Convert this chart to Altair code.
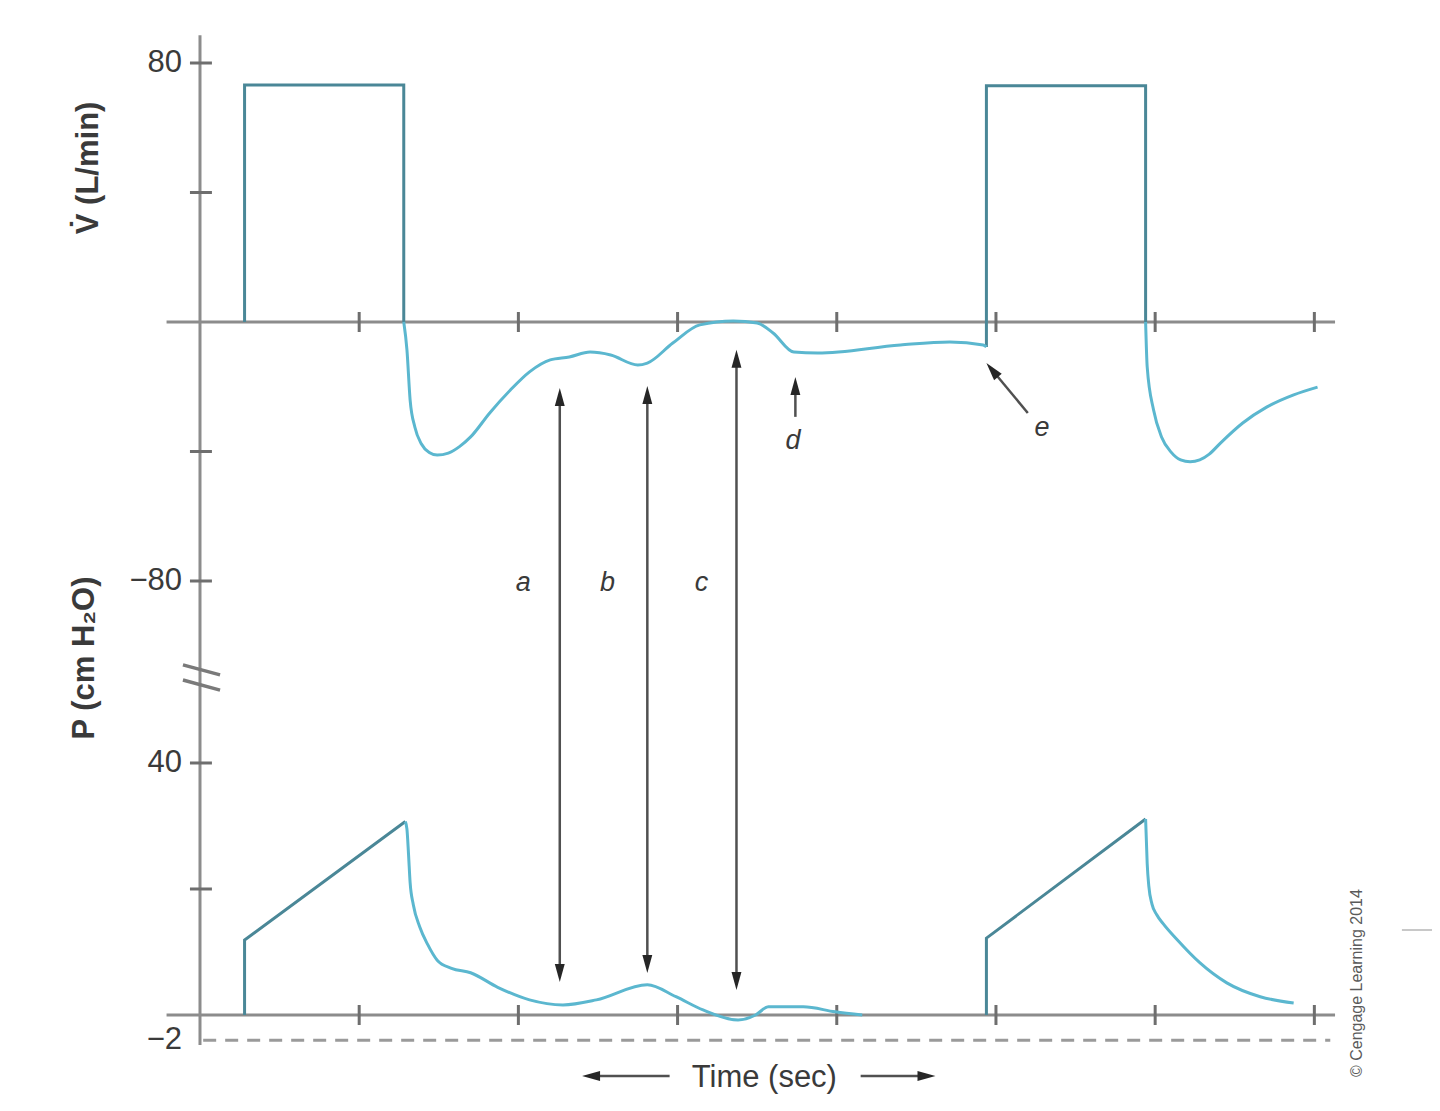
import math
import altair as alt
import pandas as pd

# ------------------------------------------------------------------ data
# Flow (L/min) vs time (sec) -- square inspiratory waves (drawn linear, in order)
FLOW_SQ_SEG = ["A", "A", "A", "A", "B", "B", "B", "B"]
FLOW_SQ_T = [0.28, 0.28, 1.28, 1.28, 4.94, 4.94, 5.94, 5.94]
FLOW_SQ_F = [0, 73.2, 73.2, 0, -7.7, 73.0, 73.0, 0]

# expiratory flow curves (smooth)
FLOW_EXP1_T = [1.28, 1.30, 1.32, 1.35, 1.39, 1.44, 1.49, 1.56, 1.63, 1.70, 1.82, 1.95,
               2.07, 2.20, 2.32, 2.45, 2.58, 2.75, 2.81, 2.97, 3.14, 3.35, 3.50, 3.60,
               3.73, 3.88, 4.40, 4.71, 4.92, 4.94]
FLOW_EXP1_F = [0, -8.6, -24.1, -32.5, -37.6, -40.3, -41.1, -40.5, -38.5, -35.5, -28.1, -21.0,
               -15.4, -11.7, -10.8, -9.3, -10.2, -13.3, -12.7, -6.5, -0.9, 0.3, -0.3, -3.4,
               -9.3, -9.6, -7.1, -6.2, -7.1, -7.7]
FLOW_EXP2_T = [5.94, 5.95, 5.99, 6.04, 6.10, 6.16, 6.22, 6.28, 6.34, 6.41, 6.55, 6.70,
               6.87, 7.02]
FLOW_EXP2_F = [0, -13.9, -27.2, -35.5, -40.2, -42.6, -43.2, -42.6, -40.8, -37.4, -31.2, -26.3,
               -22.5, -20.1]

# Pressure (cm H2O) vs time -- inspiratory ramps (linear)
PRES_RAMP_SEG = ["A", "A", "A", "B", "B", "B"]
PRES_RAMP_T = [0.28, 0.28, 1.29, 4.94, 4.94, 5.94]
PRES_RAMP_P = [0, 11.9, 30.7, 0, 12.2, 31.1]

# expiratory pressure curves (smooth)
PRES_EXP1_T = [1.29, 1.30, 1.31, 1.32, 1.34, 1.38, 1.43, 1.49, 1.58, 1.70, 1.87, 2.07,
               2.28, 2.49, 2.81, 2.99, 3.16, 3.38, 3.49, 3.57, 3.79, 3.99, 4.16]
PRES_EXP1_P = [30.7, 29.5, 25.5, 21.0, 17.5, 14.0, 11.2, 8.7, 7.4, 6.7, 4.4, 2.4,
               1.6, 2.4, 4.8, 2.9, 0.8, -0.8, 0, 1.3, 1.3, 0.5, 0]
PRES_EXP2_T = [5.94, 5.95, 5.96, 5.98, 6.01, 6.05, 6.14, 6.28, 6.45, 6.66, 6.87]
PRES_EXP2_P = [31.1, 24.0, 20.5, 17.6, 15.9, 14.5, 11.9, 8.3, 5.1, 2.9, 1.9]

# axes / ticks
X_TICKS = [1, 2, 3, 4, 5, 6, 7]
FLOW_TICKS = [80, 40, -40, -80]
FLOW_TICK_LABELS = ["80", "", "", "−80"]
PRES_TICKS = [40, 20]
PRES_TICK_LABELS = ["40", ""]
DASH_P = -4.0           # dashed reference line, labelled -2
DASH_LABEL = "−2"

# annotation arrows a, b, c (flow units used as the drawing frame)
ARROW_NAMES = ["a", "b", "c"]
ARROW_T = [2.26, 2.81, 3.37]
ARROW_TOP = [-20.4, -19.8, -8.6]
ARROW_BOT = [-203.9, -201.1, -206.3]
ARROW_LABEL_T = [2.03, 2.56, 3.15]
ARROW_LABEL_F = -80.5

# ------------------------------------------------------------------ layout
W, H = 1424, 1095
X_DOMAIN = [-1.206, 7.739]
FLOW_DOMAIN = [-241.24, 96.99]
PRES_DOMAIN = [-13.97, 159.84]
px_t = W / (X_DOMAIN[1] - X_DOMAIN[0])
px_f = H / (FLOW_DOMAIN[1] - FLOW_DOMAIN[0])
px_p = H / (PRES_DOMAIN[1] - PRES_DOMAIN[0])

FONT = "Liberation Sans"
AXIS_COL = "#8c8c8c"
TICK_COL = "#6e6e6e"
TEXT_COL = "#3a3a3a"
DARK_LINE = "#4a8797"
LIGHT_LINE = "#5bb7cf"
ARROW_COL = "#505050"
HEAD_COL = "#262626"
HEAD_LEN = 18
UP = "M0,-1L0.55,1L-0.55,1Z"
DOWN = "M0,1L0.55,-1L-0.55,-1Z"
LEFT = "M-1,0L1,-0.55L1,0.55Z"
RIGHT = "M1,0L-1,-0.55L-1,0.55Z"

xs = alt.Scale(domain=X_DOMAIN, nice=False, zero=False)
fs = alt.Scale(domain=FLOW_DOMAIN, nice=False, zero=False)
ps = alt.Scale(domain=PRES_DOMAIN, nice=False, zero=False)


def X(f="t"):
    return alt.X(f"{f}:Q", scale=xs, axis=None)


def YF(f="f"):
    return alt.Y(f"{f}:Q", scale=fs, axis=None)


def YP(f="p"):
    return alt.Y(f"{f}:Q", scale=ps, axis=None)


def segs(rows, yscale, color, width, dash=None):
    df = pd.DataFrame(rows, columns=["t", "t2", "y", "y2"])
    kw = dict(color=color, strokeWidth=width, strokeCap="butt")
    if dash:
        kw["strokeDash"] = dash
    Y = YF if yscale == "f" else YP
    return alt.Chart(df).mark_rule(**kw).encode(
        x=X("t"), x2=alt.X2("t2:Q"), y=Y("y"), y2=alt.Y2("y2:Q"))


def heads(rows, shape, yscale, angle=0):
    df = pd.DataFrame(rows, columns=["t", "y"])
    Y = YF if yscale == "f" else YP
    kw = dict(shape=shape, filled=True, size=HEAD_LEN ** 2, color=HEAD_COL,
              opacity=1, strokeWidth=0)
    if angle:
        kw["angle"] = angle
    return alt.Chart(df).mark_point(**kw).encode(x=X("t"), y=Y("y"))


def texts(rows, yscale, size, align="center", angle=0, italic=False, bold=False,
          color=TEXT_COL, baseline="middle"):
    df = pd.DataFrame(rows, columns=["t", "y", "label"])
    Y = YF if yscale == "f" else YP
    kw = dict(font=FONT, fontSize=size, align=align, baseline=baseline, color=color)
    if angle:
        kw["angle"] = angle
    if italic:
        kw["fontStyle"] = "italic"
    if bold:
        kw["fontWeight"] = "bold"
    return alt.Chart(df).mark_text(**kw).encode(x=X("t"), y=Y("y"), text="label:N")


# ------------------------------------------------------------------ flow panel
flow_axes = segs([
    [0, 0, 88.6, -223.3],               # vertical axis
    [-0.21, 7.13, 0, 0],                 # flow zero line
], "f", AXIS_COL, 3)
flow_break = segs([
    [-0.107, 0.126, -105.9, -109.0],
    [-0.107, 0.126, -110.6, -113.7],
], "f", "#7a7a7a", 3.5)
flow_yticks = segs([[-0.063, 0.075, v, v] for v in FLOW_TICKS], "f", TICK_COL, 3)
flow_xticks = segs([[v, v, -10 / px_f, 10 / px_f] for v in X_TICKS], "f", TICK_COL, 3)

flow_sq = alt.Chart(pd.DataFrame({
    "t": FLOW_SQ_T, "f": FLOW_SQ_F, "seg": FLOW_SQ_SEG,
    "ord": list(range(len(FLOW_SQ_T)))})).mark_line(
    color=DARK_LINE, strokeWidth=3, strokeJoin="miter").encode(
    x=X("t"), y=YF("f"), detail="seg:N", order="ord:Q")

flow_exp = alt.Chart(pd.concat([
    pd.DataFrame({"t": FLOW_EXP1_T, "f": FLOW_EXP1_F, "seg": "1"}),
    pd.DataFrame({"t": FLOW_EXP2_T, "f": FLOW_EXP2_F, "seg": "2"})])).mark_line(
    color=LIGHT_LINE, strokeWidth=3, interpolate="monotone").encode(
    x=X("t"), y=YF("f"), detail="seg:N")

# a, b, c double arrows
hf = HEAD_LEN / 2 / px_f
ht = HEAD_LEN / 2 / px_t
abc_shafts = segs([[t, t, top - hf, bot + hf] for t, top, bot in
                   zip(ARROW_T, ARROW_TOP, ARROW_BOT)], "f", ARROW_COL, 2.5)
abc_up = heads([[t, top - hf] for t, top in zip(ARROW_T, ARROW_TOP)], UP, "f")
abc_down = heads([[t, bot + hf] for t, bot in zip(ARROW_T, ARROW_BOT)], DOWN, "f")
abc_labels = texts([[t, ARROW_LABEL_F, n] for t, n in zip(ARROW_LABEL_T, ARROW_NAMES)],
                   "f", 27, italic=True)

# d arrow
D_T, D_TIP, D_TAIL = 3.74, -17.0, -29.3
d_shaft = segs([[D_T, D_T, D_TIP - hf, D_TAIL]], "f", ARROW_COL, 2.5)
d_head = heads([[D_T, D_TIP - hf]], UP, "f")
d_label = texts([[3.725, -36.8, "d"]], "f", 27, italic=True)

# e arrow (diagonal)
E_TIP = (4.94, -12.7)
E_TAIL = (5.20, -28.1)
dx = (E_TAIL[0] - E_TIP[0]) * px_t
dy = (E_TIP[1] - E_TAIL[1]) * px_f
L = math.hypot(dx, dy)
e_center = (E_TIP[0] + dx / L * HEAD_LEN / 2 / px_t, E_TIP[1] - dy / L * HEAD_LEN / 2 / px_f)
e_angle = 360 - math.degrees(math.atan2(dx, dy))
e_shaft = segs([[e_center[0], E_TAIL[0], e_center[1], E_TAIL[1]]], "f", ARROW_COL, 2.5)
e_head = heads([[e_center[0], e_center[1]]], UP, "f", angle=e_angle)
e_label = texts([[5.29, -32.6, "e"]], "f", 27, italic=True)

# time arrows and title
TIME_F = -232.9
time_shafts = segs([[2.40 + ht, 2.95, TIME_F, TIME_F], [4.15, 4.62 - ht, TIME_F, TIME_F]],
                   "f", ARROW_COL, 2.5)
time_head_l = heads([[2.40 + ht, TIME_F]], LEFT, "f")
time_head_r = heads([[4.62 - ht, TIME_F]], RIGHT, "f")
time_label = texts([[3.545, -233.6, "Time (sec)"]], "f", 31)

# axis titles and flow tick labels
flow_tick_text = texts([[-0.113, v, s] for v, s in zip(FLOW_TICKS, FLOW_TICK_LABELS) if s],
                       "f", 31, align="right")
titles = texts([[-0.70, 47.6, "V\u0307 (L/min)"], [-0.725, -103.8, "P (cm H\u2082O)"]],
               "f", 31, angle=270, bold=True)
copyright_txt = texts([[7.27, -204.2, "© Cengage Learning 2014"]], "f", 16,
                      angle=270, color="#5a5a5a")
side_line = segs([[7.55, 7.74, -187.8, -187.8]], "f", "#c8c8c8", 2)

flow_group = alt.layer(
    flow_axes, flow_break, flow_yticks, flow_xticks, flow_sq, flow_exp,
    abc_shafts, abc_up, abc_down, abc_labels, d_shaft, d_head, d_label,
    e_shaft, e_head, e_label, time_shafts, time_head_l, time_head_r, time_label,
    flow_tick_text, titles, copyright_txt, side_line)

# ------------------------------------------------------------------ pressure panel
pres_axis = segs([[-0.21, 7.13, 0, 0]], "p", AXIS_COL, 3)
pres_dash = segs([[0.02, 7.10, DASH_P, DASH_P]], "p", "#9a9a9a", 3, dash=[13, 9])
pres_yticks = segs([[-0.063, 0.075, v, v] for v in PRES_TICKS], "p", TICK_COL, 3)
pres_xticks = segs([[v, v, -10 / px_p, 10 / px_p] for v in X_TICKS], "p", TICK_COL, 3)
pres_ramp = alt.Chart(pd.DataFrame({
    "t": PRES_RAMP_T, "p": PRES_RAMP_P, "seg": PRES_RAMP_SEG,
    "ord": list(range(len(PRES_RAMP_T)))})).mark_line(
    color=DARK_LINE, strokeWidth=3, strokeJoin="miter").encode(
    x=X("t"), y=YP("p"), detail="seg:N", order="ord:Q")
pres_exp = alt.Chart(pd.concat([
    pd.DataFrame({"t": PRES_EXP1_T, "p": PRES_EXP1_P, "seg": "1"}),
    pd.DataFrame({"t": PRES_EXP2_T, "p": PRES_EXP2_P, "seg": "2"})])).mark_line(
    color=LIGHT_LINE, strokeWidth=3, interpolate="monotone").encode(
    x=X("t"), y=YP("p"), detail="seg:N")
pres_tick_text = texts([[-0.113, v, s] for v, s in zip(PRES_TICKS + [DASH_P],
                                                          PRES_TICK_LABELS + [DASH_LABEL]) if s],
                       "p", 31, align="right")

pres_group = alt.layer(pres_axis, pres_dash, pres_yticks, pres_xticks,
                       pres_ramp, pres_exp, pres_tick_text)

chart = alt.layer(flow_group, pres_group).resolve_scale(y="independent").properties(
    width=W, height=H, padding=0, background="white",
    autosize=alt.AutoSizeParams(type="none"),
).configure_view(stroke=None)

chart.save("out.html", embed_options={"renderer": "svg", "actions": False})
